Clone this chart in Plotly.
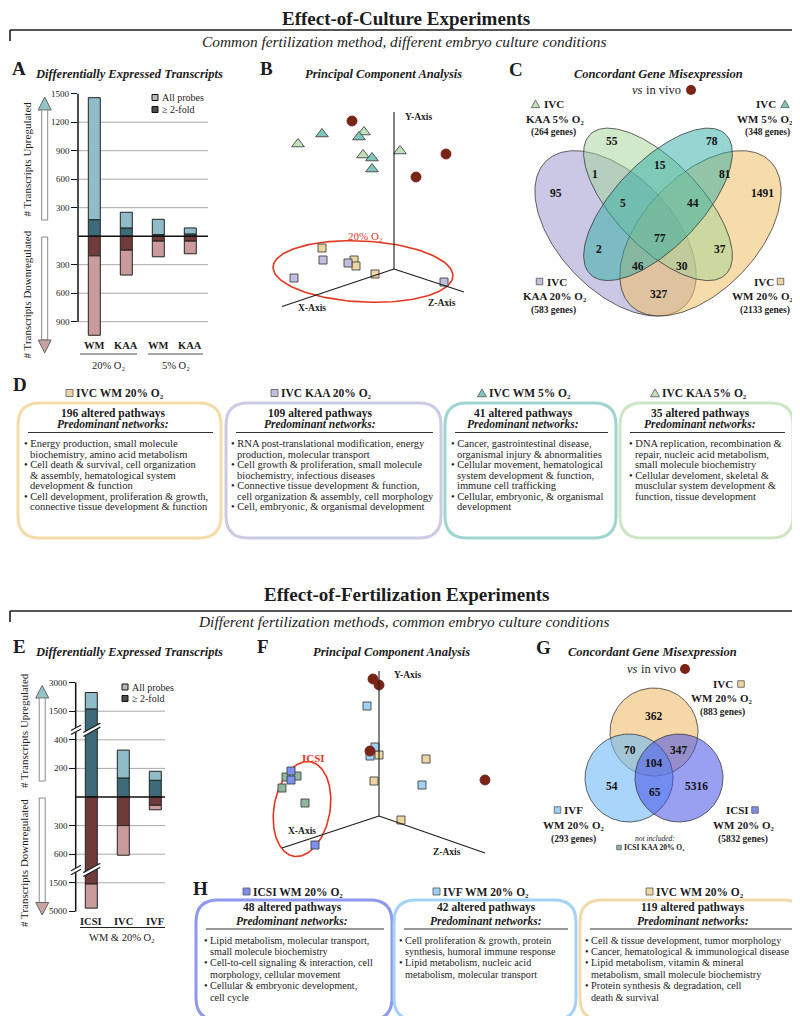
import numpy as np
import plotly.graph_objects as go

FONT = "Liberation Serif"
INK = "#1c1c1c"
W, H = 800, 1016

# ======================= DATA =======================
# Panel A - differentially expressed transcripts (effect of culture)
a_conditions = ["WM", "KAA", "WM", "KAA"]
a_groups = ["20% O₂", "5% O₂"]
a_up_all = [1458, 252, 178, 87]
a_up_2fold = [174, 87, 17, 24]
a_down_all = [1043, 409, 217, 185]
a_down_2fold = [207, 147, 52, 52]
a_tickvals = [1500, 1200, 900, 600, 300, -300, -600, -900]
a_ticktext = ["1500", "1200", "900", "600", "300", "300", "600", "900"]

# Panel E - differentially expressed transcripts (effect of fertilization)
e_conditions = ["ICSI", "IVC", "IVF"]
e_group = "WM & 20% O₂"
e_up_all = [2480, 328, 180]
e_up_2fold = [1620, 133, 117]
e_down_all = [4600, 632, 134]
e_down_2fold = [1650, 300, 87]
e_up_knots = [0, 200, 400, 1500, 3000]
e_down_knots = [0, 300, 600, 1500, 5000]
e_tick_up = [3000, 1500, 400, 200]
e_tick_down = [300, 600, 1500, 5000]

# Panel B - PCA (projected positions)
b_invivo_x = [344, 408, 438]; b_invivo_y = [113, 169, 146]
b_wm5_x = [314, 351, 364, 364]; b_wm5_y = [126, 129, 150, 161]
b_kaa5_x = [290, 356, 355, 392]; b_kaa5_y = [136, 124, 147, 143]
b_wm20_x = [314, 346, 348, 367]; b_wm20_y = [240, 252, 258, 266]
b_kaa20_x = [315, 340, 286, 436]; b_kaa20_y = [252, 255, 270, 274]

# Panel F - PCA (projected positions)
f_invivo_x = [365, 371, 362, 477]; f_invivo_y = [671, 677, 743, 772]
f_ivf_x = [359, 367, 362, 414]; f_ivf_y = [698, 739, 748, 777]
f_ivc_x = [371, 366, 418, 393]; f_ivc_y = [747, 773, 751, 812]
f_icsi_wm_x = [283, 283, 307]; f_icsi_wm_y = [763, 772, 837]
f_icsi_kaa_x = [278, 289, 274, 297]; f_icsi_kaa_y = [769, 768, 780, 795]

# Panel C - four-set Venn
c_counts = [95, 55, 78, 1491, 1, 15, 81, 5, 44, 77, 2, 37, 46, 30, 327]
c_set_genes = [264, 348, 583, 2133]
# Panel G - three-set Venn
g_counts = [362, 70, 347, 104, 54, 5316, 65]
g_set_genes = [883, 293, 5832]

# Panel D / H text
d_counts = [196, 109, 41, 35]
d_headers = ["IVC WM 20% O₂", "IVC KAA 20% O₂", "IVC WM 5% O₂", "IVC KAA 5% O₂"]
d_lines = [
    [("Energy production, small molecule", 1), ("biochemistry, amino acid metabolism", 0),
     ("Cell death & survival, cell organization", 1), ("& assembly, hematological system", 0),
     ("development & function", 0), ("Cell development, proliferation & growth,", 1),
     ("connective tissue development & function", 0)],
    [("RNA post-translational modification, energy", 1), ("production, molecular transport", 0),
     ("Cell growth & proliferation, small molecule", 1), ("biochemistry, infectious diseases", 0),
     ("Connective tissue development & function,", 1), ("cell organization & assembly, cell morphology", 0),
     ("Cell, embryonic, & organismal development", 1)],
    [("Cancer, gastrointestinal disease,", 1), ("organismal injury & abnormalities", 0),
     ("Cellular movement, hematological", 1), ("system development & function,", 0),
     ("immune cell trafficking", 0), ("Cellular, embryonic, & organismal", 1),
     ("development", 0)],
    [("DNA replication, recombination &", 1), ("repair, nucleic acid metabolism,", 0),
     ("small molecule biochemistry", 0), ("Cellular develoment, skeletal &", 1),
     ("musclular system development &", 0), ("function, tissue development", 0)],
]
h_counts = [48, 42, 119]
h_headers = ["ICSI WM 20% O₂", "IVF WM 20% O₂", "IVC WM 20% O₂"]
h_lines = [
    [("Lipid metabolism, molecular transport,", 1), ("small molecule biochemistry", 0),
     ("Cell-to-cell signaling & interaction, cell", 1), ("morphology, cellular movement", 0),
     ("Cellular & embryonic development,", 1), ("cell cycle", 0)],
    [("Cell proliferation & growth, protein", 1), ("synthesis, humoral immune response", 0),
     ("Lipid metabolism, nucleic acid", 1), ("metabolism, molecular transport", 0)],
    [("Cell & tissue development, tumor morphology", 1), ("Cancer, hematological & immunological disease", 1),
     ("Lipid metabolism, vitamin & mineral", 1), ("metabolism, small molecule biochemistry", 0),
     ("Protein synthesis & degradation, cell", 1), ("death & survival", 0)],
]

# ======================= STYLE =======================
UP_LIGHT = "#8fbcc9"; UP_DARK = "#3e6b79"
DN_DARK = "#6f3c3b"; DN_LIGHT = "#c99c9b"
BROWN = "#7a2418"
C_WM20 = "#efd6a0"; C_KAA20 = "#c0bfe0"; C_WM5 = "#7fc6bd"; C_KAA5 = "#bfe0bb"
C_IVF = "#9fd0f5"; C_ICSI = "#7f8ff0"; C_ICSI_KAA = "#8fb8a0"
RED = "#e5361f"

fig = go.Figure()
shapes = []
annots = []


def ann(x, y, text, size=10.5, color=INK, xa="center", ya="middle", angle=0, xref="x3", yref="y3", xshift=0):
    annots.append(dict(x=x, y=y, xref=xref, yref=yref, text=text, showarrow=False,
                       font=dict(family=FONT, size=size, color=color),
                       xanchor=xa, yanchor=ya, textangle=angle, borderpad=0, xshift=xshift))


def line(x0, y0, x1, y1, color=INK, width=1, layer="above"):
    shapes.append(dict(type="line", xref="x3", yref="y3", x0=x0, y0=y0, x1=x1, y1=y1,
                       line=dict(color=color, width=width), layer=layer))


def poly(pts, fill, lc="#555", lw=1):
    p = "M" + " L".join(f"{x},{y}" for x, y in pts) + " Z"
    shapes.append(dict(type="path", xref="x3", yref="y3", path=p, fillcolor=fill,
                       line=dict(color=lc, width=lw), layer="above"))


def sq(cx, cy, col, s=6.5):
    shapes.append(dict(type="rect", xref="x3", yref="y3", x0=cx - s / 2, x1=cx + s / 2, y0=cy - s / 2,
                       y1=cy + s / 2, fillcolor=col, line=dict(color="#555", width=0.8), layer="above"))


def tri(cx, cy, col, s=8.5):
    poly([(cx - s / 2, cy + s * 0.42), (cx + s / 2, cy + s * 0.42), (cx, cy - s * 0.45)], col, "#555", 0.8)


def rrect(x0, y0, x1, y1, r, color, width=3):
    p = (f"M{x0+r},{y0} L{x1-r},{y0} Q{x1},{y0} {x1},{y0+r} L{x1},{y1-r} Q{x1},{y1} {x1-r},{y1} "
         f"L{x0+r},{y1} Q{x0},{y1} {x0},{y1-r} L{x0},{y0+r} Q{x0},{y0} {x0+r},{y0} Z")
    shapes.append(dict(type="path", xref="x3", yref="y3", path=p,
                       line=dict(color=color, width=width), layer="above"))


# ======================= HEADINGS =======================
def section(ytitle, ybr, ysub, title, sub):
    ann(398, ytitle, "<b>" + title + "</b>", size=19)
    line(2, ybr, 787, ybr, width=1.6)
    line(2, ybr, 2, ybr + 11, width=1.6)
    line(787, ybr, 787, ybr + 11, width=1.6)
    ann(396, ysub, "<i>" + sub + "</i>", size=15.4)


section(10, 22, 33, "Effect-of-Culture Experiments",
        "Common fertilization method, different embryo culture conditions")
section(586, 603, 613, "Effect-of-Fertilization Experiments",
        "Different fertilization methods, common embryo culture conditions")

for letter, x, y in [("A", 11, 60), ("B", 258, 60), ("C", 508, 61),
                     ("D", 12, 376), ("E", 11, 638), ("F", 255, 638), ("G", 535, 639), ("H", 192, 880)]:
    ann(x, y, "<b>" + letter + "</b>", size=19)
for t, x, y in [("Differentially Expressed Transcripts", 121, 66), ("Principal Component Analysis", 375, 66),
                ("Concordant Gene Misexpression", 650, 66),
                ("Differentially Expressed Transcripts", 121, 644), ("Principal Component Analysis", 383, 644),
                ("Concordant Gene Misexpression", 644, 644)]:
    ann(x, y, "<b><i>" + t + "</i></b>", size=12.5)
for xv, y, cx in [(623, 82, 683), (618, 661, 677)]:
    ann(xv, y, "<i>vs</i>", size=12.5, xa="left")
    ann(xv + 14, y, "in vivo", size=12.5, xa="left")
    shapes.append(dict(type="circle", xref="x3", yref="y3", x0=cx - 5, x1=cx + 5, y0=y - 5, y1=y + 5,
                       fillcolor=BROWN, line=dict(color=BROWN, width=0)))

# ======================= PANEL A =======================
A_X0, A_DX = 86.3, 32.0
A_Y0, A_K = 228.2, 0.095
def a_py(v): return A_Y0 - A_K * v

a_idx = list(range(len(a_conditions)))
bw = 12 / A_DX
for base, val, col in [
    ([0] * 4, a_up_2fold, UP_DARK),
    (a_up_2fold, [u - d for u, d in zip(a_up_all, a_up_2fold)], UP_LIGHT),
    ([0] * 4, [-d for d in a_down_2fold], DN_DARK),
    ([-d for d in a_down_2fold], [-(u - d) for u, d in zip(a_down_all, a_down_2fold)], DN_LIGHT),
]:
    fig.add_trace(go.Bar(x=a_idx, y=val, base=base, width=bw, marker=dict(color=col, line=dict(color="#222", width=1)),
                         xaxis="x", yaxis="y", showlegend=False, hoverinfo="skip"))

a_yrange = [-1060, 1510]
for v, s in zip(a_tickvals, a_ticktext):
    if v != max(a_tickvals):
        shapes.append(dict(type="line", xref="x domain", yref="y", x0=0, x1=1, y0=v, y1=v,
                           line=dict(color="#a8a8a8", width=1), layer="below"))
    ann(0, v, s, size=9, xa="right", xref="x domain", yref="y", xshift=-7)
shapes.append(dict(type="line", xref="x domain", yref="y", x0=0, x1=1, y0=0, y1=0,
                   line=dict(color="#111", width=1.6), layer="above"))
shapes.append(dict(type="line", xref="x domain", yref="y", x0=0, x1=0, y0=max(a_tickvals), y1=min(a_tickvals),
                   line=dict(color="#111", width=1.5), layer="above"))
for i, c in enumerate(a_conditions):
    ann(A_X0 + A_DX * i, 337, "<b>" + c + "</b>", size=10.5)
line(72, 346, 129, 346, color="#8a8a8a", width=1.5)
line(140, 346, 195, 346, color="#8a8a8a", width=1.5)
ann(100.5, 357, a_groups[0], size=10.5)
ann(167.5, 357, a_groups[1], size=10.5)
# legend
for yy, col, lab in [(89.5, "#b9b9b9", "All probes"), (101.5, "#4d4d4d", "≥ 2-fold")]:
    shapes.append(dict(type="rect", xref="x3", yref="y3", x0=144, x1=150, y0=yy - 3, y1=yy + 3,
                       fillcolor=col, line=dict(color="#111", width=1)))
    ann(153, yy, lab, size=10, xa="left")

# arrows
def arrows(xc, up_top, up_bot, dn_top, dn_bot, tri_h):
    poly([(xc - 6.5, up_top + tri_h), (xc + 6.5, up_top + tri_h), (xc, up_top)], "#90c4c8", "#666", 1)
    shapes.append(dict(type="rect", xref="x3", yref="y3", x0=xc - 3, x1=xc + 3, y0=up_top + tri_h, y1=up_bot,
                       fillcolor="white", line=dict(color="#8a8a8a", width=1)))
    shapes.append(dict(type="rect", xref="x3", yref="y3", x0=xc - 3, x1=xc + 3, y0=dn_top, y1=dn_bot - tri_h,
                       fillcolor="white", line=dict(color="#8a8a8a", width=1)))
    poly([(xc - 6.5, dn_bot - tri_h), (xc + 6.5, dn_bot - tri_h), (xc, dn_bot)], "#c9a3a3", "#666", 1)

arrows(36.7, 89, 212, 229, 345, 13)
ann(18.5, 151, "# Transcripts Upregulated", size=11, angle=-90)
ann(18.5, 287, "# Transcripts Downregulated", size=11, angle=-90)

# ======================= PANEL E =======================
E_X0, E_DX = 83.3, 32.0
E_Y0, E_K = 789.0, 28.6
def e_up(v): return float(np.interp(v, e_up_knots, range(len(e_up_knots))))
def e_dn(v): return -float(np.interp(v, e_down_knots, range(len(e_down_knots))))
def e_py(u): return E_Y0 - E_K * u

e_idx = list(range(len(e_conditions)))
ebw = 12 / E_DX
up2 = [e_up(v) for v in e_up_2fold]; upa = [e_up(v) for v in e_up_all]
dn2 = [e_dn(v) for v in e_down_2fold]; dna = [e_dn(v) for v in e_down_all]
for base, val, col in [
    ([0] * 3, up2, UP_DARK),
    (up2, [a - b for a, b in zip(upa, up2)], UP_LIGHT),
    ([0] * 3, dn2, DN_DARK),
    (dn2, [a - b for a, b in zip(dna, dn2)], DN_LIGHT),
]:
    fig.add_trace(go.Bar(x=e_idx, y=val, base=base, width=ebw, marker=dict(color=col, line=dict(color="#222", width=1)),
                         xaxis="x2", yaxis="y2", showlegend=False, hoverinfo="skip"))

e_tickvals = [e_up(v) for v in e_tick_up] + [e_dn(v) for v in e_tick_down]
e_ticktext = [str(v) for v in e_tick_up] + [str(v) for v in e_tick_down]
for v, s in zip(e_tickvals, e_ticktext):
    if abs(v) < 3.99:
        shapes.append(dict(type="line", xref="x2 domain", yref="y2", x0=0, x1=1, y0=v, y1=v,
                           line=dict(color="#a8a8a8", width=1), layer="below"))
    ann(0, v, s, size=9, xa="right", xref="x2 domain", yref="y2", xshift=-7)
shapes.append(dict(type="line", xref="x2 domain", yref="y2", x0=0, x1=1, y0=0, y1=0,
                   line=dict(color="#111", width=1.6), layer="above"))
shapes.append(dict(type="line", xref="x2 domain", yref="y2", x0=0, x1=0, y0=max(e_tickvals), y1=min(e_tickvals),
                   line=dict(color="#111", width=1.5), layer="above"))
# axis breaks
for ub in [2.35, -2.55]:
    yc = e_py(ub)
    for xa_, xb_ in [(63, 73), (E_X0 - 8, E_X0 + 9)]:
        s = 0.55 * (xb_ - xa_) / 2
        poly([(xa_, yc + 2 + s), (xb_, yc + 2 - s), (xb_, yc - 2 - s), (xa_, yc - 2 + s)], "white", "white", 0.5)
        line(xa_, yc + 2 + s, xb_, yc + 2 - s, width=1.2)
        line(xa_, yc - 2 + s, xb_, yc - 2 - s, width=1.2)
for i, c in enumerate(e_conditions):
    ann(E_X0 + E_DX * i, 913, "<b>" + c + "</b>", size=10.5)
line(72, 919.5, 157, 919.5, color="#222", width=1.2)
ann(114, 929, e_group, size=10.5)
for yy, col, lab in [(679, "#b9b9b9", "All probes"), (690.5, "#4d4d4d", "≥ 2-fold")]:
    shapes.append(dict(type="rect", xref="x3", yref="y3", x0=114, x1=120, y0=yy - 3, y1=yy + 3,
                       fillcolor=col, line=dict(color="#111", width=1)))
    ann(123, yy, lab, size=10, xa="left")
arrows(34.2, 677.5, 773, 790, 907, 12.5)
ann(16, 723, "# Transcripts Upregulated", size=11, angle=-90)
ann(16, 855, "# Transcripts Downregulated", size=11, angle=-90)

# ======================= PCA PANELS =======================
def pca_axes(o, ytop, xend, zend, lab_y, lab_x, lab_z):
    line(o[0], o[1], o[0], ytop, width=1.1)
    line(o[0], o[1], xend[0], xend[1], width=1.1)
    line(o[0], o[1], zend[0], zend[1], width=1.1)
    ann(lab_y[0], lab_y[1], "<b>Y-Axis</b>", size=9.5)
    ann(lab_x[0], lab_x[1], "<b>X-Axis</b>", size=9.5)
    ann(lab_z[0], lab_z[1], "<b>Z-Axis</b>", size=9.5)

pca_axes((386, 261), 104, (274, 298.5), (456, 284), (410, 109), (304, 299.5), (434, 294.5))
pca_axes((371, 808), 663, (274, 840), (477, 845), (399, 667), (294, 822.5), (439, 843.5))


def scat(xs, ys, symb, col, size, lc="#444"):
    fig.add_trace(go.Scatter(x=xs, y=ys, mode="markers", xaxis="x3", yaxis="y3",
                             marker=dict(symbol=symb, color=col, size=size, line=dict(color=lc, width=0.9)),
                             showlegend=False, hoverinfo="skip"))


def ellipse_trace(cx, cy, rx, ry, ang, color, width=1.6):
    tt = np.linspace(0, 2 * np.pi, 160)
    a = np.radians(ang)
    xs = cx + rx * np.cos(tt) * np.cos(a) - ry * np.sin(tt) * np.sin(a)
    ys = cy + rx * np.cos(tt) * np.sin(a) + ry * np.sin(tt) * np.cos(a)
    fig.add_trace(go.Scatter(x=xs, y=ys, mode="lines", xaxis="x3", yaxis="y3",
                             line=dict(color=color, width=width), showlegend=False, hoverinfo="skip"))

ellipse_trace(355, 263.5, 90, 30.5, 3, RED)
ann(357, 228, "20% O₂", size=11, color=RED)
scat(b_kaa5_x, b_kaa5_y, "triangle-up", C_KAA5, 11)
scat(b_wm5_x, b_wm5_y, "triangle-up", C_WM5, 11)
scat(b_wm20_x, b_wm20_y, "square", C_WM20, 8)
scat(b_kaa20_x, b_kaa20_y, "square", C_KAA20, 8)
scat(b_invivo_x, b_invivo_y, "circle", BROWN, 10, lc=BROWN)

ellipse_trace(294, 801, 28, 48, 10, RED)
ann(305, 749.5, "<b>ICSI</b>", size=11, color=RED)
scat(f_icsi_kaa_x, f_icsi_kaa_y, "square", C_ICSI_KAA, 8)
scat(f_icsi_wm_x, f_icsi_wm_y, "square", C_ICSI, 8)
scat(f_ivc_x, f_ivc_y, "square", C_WM20, 8)
scat(f_ivf_x, f_ivf_y, "square", C_IVF, 8)
scat(f_invivo_x, f_invivo_y, "circle", BROWN, 10, lc=BROWN)

# ======================= VENN C =======================
def venn_c_xy(u, v):
    return 650 + (u - 0.5) * 283, 308 - (v - 0.185) * 290

c_ellipses = [  # (cx, cy, a, b, angle, fill)
    (0.35, 0.47, 0.35, 0.20, 135, "rgba(150,146,202,0.50)"),
    (0.65, 0.47, 0.35, 0.20, 45, "rgba(240,192,102,0.55)"),
    (0.50, 0.57, 0.34, 0.15, 135, "rgba(160,212,150,0.50)"),
    (0.50, 0.57, 0.34, 0.15, 45, "rgba(45,172,163,0.50)"),
]
t = np.linspace(0, 2 * np.pi, 200)
for cx, cy, a, b, ang, fc in c_ellipses:
    th = np.radians(ang)
    u = cx + a * np.cos(t) * np.cos(th) - b * np.sin(t) * np.sin(th)
    v = cy + a * np.cos(t) * np.sin(th) + b * np.sin(t) * np.cos(th)
    xs, ys = venn_c_xy(u, v)
    fig.add_trace(go.Scatter(x=xs, y=ys, mode="lines", fill="toself", fillcolor=fc, xaxis="x3", yaxis="y3",
                             line=dict(color="rgba(50,50,50,0.85)", width=0.9), showlegend=False, hoverinfo="skip"))
c_label_x = [548, 604, 704, 754, 587, 652, 717, 615, 685, 652, 591, 712, 630, 674, 651]
c_label_y = [185, 133, 133, 185, 166, 157, 166, 195, 195, 230, 241, 241, 258, 258, 286]
for n, x, y in zip(c_counts, c_label_x, c_label_y):
    ann(x, y, f"<b>{n}</b>", size=11.5, color="#111")

tri(527.5, 96, C_KAA5); ann(535, 96, "<b>IVC</b>", size=11, xa="left")
ann(547, 110.5, "<b>KAA 5% O₂</b>", size=11)
ann(545, 124.5, f"<b>({c_set_genes[0]} genes)</b>", size=9.5)
tri(777, 96, C_WM5); ann(769, 96, "<b>IVC</b>", size=11, xa="right")
ann(786, 110.5, "<b>WM 5% O₂</b>", size=11, xa="right")
ann(783, 124.5, f"<b>({c_set_genes[1]} genes)</b>", size=9.5, xa="right")
sq(531.5, 273.5, C_KAA20); ann(538, 273.5, "<b>IVC</b>", size=11, xa="left")
ann(547, 287.5, "<b>KAA 20% O₂</b>", size=11)
ann(545, 302, f"<b>({c_set_genes[2]} genes)</b>", size=9.5)
sq(772.5, 273.5, C_WM20); ann(767, 273.5, "<b>IVC</b>", size=11, xa="right")
ann(786, 287.5, "<b>WM 20% O₂</b>", size=11, xa="right")
ann(783, 302, f"<b>({c_set_genes[3]} genes)</b>", size=9.5, xa="right")

# ======================= VENN G =======================
g_circles = [(646, 724, 44, "rgba(238,188,110,0.60)"),
             (621, 770, 44, "rgba(110,185,245,0.60)"),
             (671, 770, 44, "rgba(70,82,232,0.55)")]
for cx, cy, r, fc in g_circles:
    fig.add_trace(go.Scatter(x=cx + r * np.cos(t), y=cy + r * np.sin(t), mode="lines", fill="toself",
                             fillcolor=fc, xaxis="x3", yaxis="y3",
                             line=dict(color="rgba(50,50,50,0.85)", width=0.9), showlegend=False, hoverinfo="skip"))
g_label_x = [646, 622, 671, 646, 604, 688, 647]
g_label_y = [708, 742, 742, 755, 778, 778, 784]
for n, x, y in zip(g_counts, g_label_x, g_label_y):
    ann(x, y, f"<b>{n}</b>", size=11.5, color="#111")
sq(733, 676, C_WM20); ann(726, 676, "<b>IVC</b>", size=11, xa="right")
ann(713, 690, "<b>WM 20% O₂</b>", size=11)
ann(714, 704, f"<b>({g_set_genes[0]} genes)</b>", size=9.5)
sq(549.5, 802, C_IVF); ann(555, 802, "<b>IVF</b>", size=11, xa="left")
ann(565, 816.5, "<b>WM 20% O₂</b>", size=11)
ann(565, 831, f"<b>({g_set_genes[1]} genes)</b>", size=9.5)
sq(747, 802, C_ICSI); ann(742, 802, "<b>ICSI</b>", size=11, xa="right")
ann(735, 816.5, "<b>WM 20% O₂</b>", size=11)
ann(735, 831, f"<b>({g_set_genes[2]} genes)</b>", size=9.5)
ann(647, 830, "<i>not included:</i>", size=7.5)
sq(611, 839.5, C_ICSI_KAA, 4.5); ann(614.5, 839.5, "<b>ICSI KAA 20% O₂</b>", size=7.5, xa="left")

# ======================= PANELS D / H =======================
def boxes(x0s, x1s, cols, y0, y1, centers, syms, head_x, headers, counts, lines, y_head, y_cnt, y_pred,
          y_rule, y_line0, dy, offs, fs):
    for k in range(len(x0s)):
        rrect(x0s[k], y0, x1s[k], y1, 22, cols[k], 3)
        kind, col = syms[k]
        if kind == "sq":
            sq(head_x[k] - 5.5, y_head, col, 7)
        else:
            tri(head_x[k] - 6, y_head, col, 9)
        ann(head_x[k], y_head, "<b>" + headers[k] + "</b>", size=11.5, xa="left")
        ann(centers[k], y_cnt, f"<b>{counts[k]} altered pathways</b>", size=11.5)
        ann(centers[k], y_pred, "<b><i>Predominant networks:</i></b>", size=11.5)
        line(x0s[k] + 10, y_rule, x1s[k] - 8, y_rule, color="#333", width=1)
        for j, (txt, bullet) in enumerate(lines[k]):
            x = x0s[k] + offs[k] + (0 if bullet else 6)
            ann(x, y_line0 + dy * j, ("• " if bullet else "") + txt, size=fs, xa="left")

boxes([10, 218, 437, 612], [213, 433, 608, 785],
      ["#f4dcaa", "#cccbe6", "#9ed5d1", "#cde6c6"], 395, 530,
      [105, 312, 515, 692],
      [("sq", C_WM20), ("sq", C_KAA20), ("tri", C_WM5), ("tri", C_KAA5)], [67, 272, 480, 653],
      d_headers, d_counts, d_lines, 385, 405, 415.5, 424.5, 435.5, 10.55, [5, 4, 5, 8], 10.5)
boxes([188, 386, 572], [384, 568, 797],
      ["#8e98ec", "#a3d2f4", "#f1d9ab"], 892, 1012,
      [284, 478, 685],
      [("sq", C_ICSI), ("sq", C_IVF), ("sq", C_WM20)], [244, 434, 647],
      h_headers, h_counts, h_lines, 883.5, 899.5, 912.5, 921, 932, 11.4, [7, 4, 4], 10.2)

# ======================= LAYOUT =======================
axis_off = dict(visible=False, fixedrange=True)
fig.update_layout(
    width=W, height=H, margin=dict(l=0, r=0, t=0, b=0),
    paper_bgcolor="white", plot_bgcolor="rgba(0,0,0,0)",
    barmode="overlay", showlegend=False,
    xaxis=dict(domain=[70 / W, 200 / W], range=[(70 - A_X0) / A_DX, (200 - A_X0) / A_DX], **axis_off),
    yaxis=dict(domain=[1 - a_py(a_yrange[0]) / H, 1 - a_py(a_yrange[1]) / H], range=a_yrange, anchor="x",
               tickvals=a_tickvals, ticks="outside", ticklen=6, tickwidth=1, showticklabels=False,
               tickcolor="#111", showgrid=False, zeroline=False, showline=False, fixedrange=True),
    xaxis2=dict(domain=[67.7 / W, 157 / W], range=[(67.7 - E_X0) / E_DX, (157 - E_X0) / E_DX], anchor="y2",
                **axis_off),
    yaxis2=dict(domain=[1 - e_py(-4.05) / H, 1 - e_py(4.05) / H], range=[-4.05, 4.05], anchor="x2",
                tickvals=e_tickvals, ticks="outside", ticklen=6, tickwidth=1, showticklabels=False,
                tickcolor="#111", showgrid=False, zeroline=False, showline=False, fixedrange=True),
    xaxis3=dict(domain=[0, 1], range=[0, W], anchor="y3", **axis_off),
    yaxis3=dict(domain=[0, 1], range=[H, 0], anchor="x3", **axis_off),
    shapes=shapes, annotations=annots,
    font=dict(family=FONT, color=INK),
)

fig.write_html("out.html")
